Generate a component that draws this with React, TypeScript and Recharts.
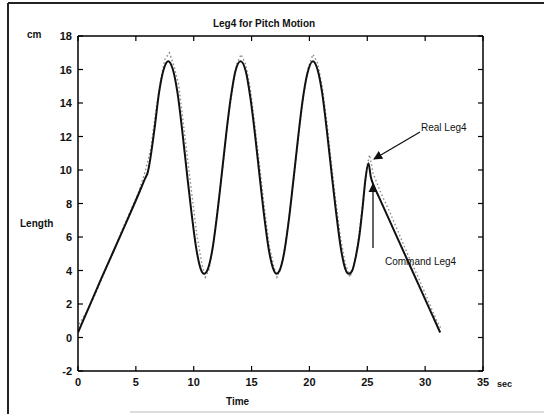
import React from 'react';
import { LineChart, Line, XAxis, YAxis } from 'recharts';

const xTicks = [0, 5, 10, 15, 20, 25, 30, 35];
const yTicks = [-2, 0, 2, 4, 6, 8, 10, 12, 14, 16, 18];

const cmdX = [0, 2.0, 4.0, 5.5, 5.8, 6.0, 6.6, 7.0, 7.4, 7.8, 8.2, 8.6, 9.0, 9.4, 9.8, 10.2, 10.6, 10.9, 11.2, 11.6, 12.0, 12.4, 12.8, 13.2, 13.6, 14.05, 14.5, 14.9, 15.3, 15.7, 16.1, 16.5, 16.9, 17.15, 17.4, 17.8, 18.2, 18.6, 19.0, 19.4, 19.8, 20.3, 20.7, 21.1, 21.5, 21.9, 22.3, 22.7, 23.1, 23.4, 23.7, 24.0, 24.3, 24.6, 24.85, 25.1, 25.3, 25.6, 26.0, 27.5, 29.4, 31.3];
const cmdY = [0.3, 3.5, 6.6, 9.0, 9.5, 9.8, 12.4, 14.6, 16.0, 16.5, 16.0, 14.6, 12.4, 9.9, 7.5, 5.4, 4.1, 3.8, 4.05, 5.2, 7.2, 9.6, 12.1, 14.3, 15.9, 16.5, 15.9, 14.3, 12.1, 9.6, 7.2, 5.2, 4.05, 3.8, 3.97, 5.0, 6.9, 9.3, 11.8, 14.1, 15.7, 16.5, 16.0, 14.6, 12.4, 9.9, 7.5, 5.4, 4.1, 3.8, 4.0, 4.8, 6.0, 7.8, 9.5, 10.4, 9.6, 9.0, 8.4, 6.1, 3.2, 0.3];

const realX = [0.1, 0.8, 1.5, 2.3, 3.0, 3.8, 4.5, 5.2, 5.8, 6.3, 6.7, 7.1, 7.5, 7.9, 8.3, 8.7, 9.1, 9.5, 9.9, 10.3, 10.7, 11.0, 11.3, 11.7, 12.1, 12.5, 12.9, 13.3, 13.7, 14.1, 14.5, 14.9, 15.3, 15.7, 16.1, 16.5, 16.9, 17.2, 17.5, 17.9, 18.3, 18.7, 19.1, 19.5, 19.9, 20.3, 20.7, 21.1, 21.5, 21.9, 22.3, 22.7, 23.1, 23.5, 23.8, 24.1, 24.4, 24.7, 25.0, 25.2, 25.5, 26.2, 27.0, 27.8, 28.6, 29.4, 30.2, 31.0, 31.4];
const realY = [0.8, 1.6, 2.6, 3.9, 5.0, 6.4, 7.5, 8.6, 9.9, 11.3, 13.4, 15.2, 16.6, 17.0, 16.2, 15.1, 12.8, 10.5, 8.2, 6.0, 4.4, 3.6, 4.0, 5.6, 7.9, 10.1, 12.7, 14.6, 16.3, 16.9, 16.3, 14.8, 12.6, 10.2, 7.8, 5.6, 4.3, 3.6, 4.1, 5.4, 7.5, 9.8, 12.3, 14.5, 16.1, 16.9, 16.4, 15.0, 12.9, 10.4, 8.0, 5.9, 4.4, 3.6, 4.2, 5.2, 6.8, 8.6, 10.3, 10.9, 9.8, 8.6, 7.4, 6.1, 4.8, 3.6, 2.3, 1.0, 0.5];

const cmdData = cmdX.map((x, i) => ({ x, y: cmdY[i] }));
const realData = realX.map((x, i) => ({ x, y: realY[i] }));

const FONT = 'Arial, "Liberation Sans", sans-serif';

const BottomTick = (p: any) => (
  <g>
    <line x1={p.x} x2={p.x} y1={p.y} y2={p.y - 5} stroke="#000" strokeWidth={1.2} />
    <text x={p.x} y={p.y + 15} textAnchor="middle" fontSize={11} fontWeight="bold" fontFamily={FONT} fill="#111">
      {p.payload.value}
    </text>
  </g>
);
const TopTick = (p: any) => (
  <line x1={p.x} x2={p.x} y1={p.y} y2={p.y + 5} stroke="#000" strokeWidth={1.2} />
);
const LeftTick = (p: any) => (
  <g>
    <line x1={p.x} x2={p.x + 5} y1={p.y} y2={p.y} stroke="#000" strokeWidth={1.2} />
    <text x={p.x - 6} y={p.y + 4} textAnchor="end" fontSize={11} fontWeight="bold" fontFamily={FONT} fill="#111">
      {p.payload.value}
    </text>
  </g>
);
const RightTick = (p: any) => (
  <line x1={p.x} x2={p.x - 5} y1={p.y} y2={p.y} stroke="#000" strokeWidth={1.2} />
);

export default function App() {
  return (
    <div style={{ position: 'absolute', left: 0, top: 0, width: 544, height: 414, background: '#fff' }}>
      <LineChart width={544} height={414} margin={{ top: 35, right: 60, bottom: 42, left: 77 }}>
        <XAxis xAxisId="b" dataKey="x" type="number" domain={[0, 35]} ticks={xTicks} height={1} tickSize={0} tickMargin={0}
          tick={<BottomTick />} tickLine={false} stroke="#000" strokeWidth={1.5} allowDataOverflow />
        <XAxis xAxisId="t" orientation="top" dataKey="x" type="number" domain={[0, 35]} ticks={xTicks} height={1} tickSize={0} tickMargin={0}
          tick={<TopTick />} tickLine={false} stroke="#000" strokeWidth={1.5} allowDataOverflow />
        <YAxis yAxisId="l" type="number" domain={[-2, 18]} ticks={yTicks} width={1} tickSize={0} tickMargin={0}
          tick={<LeftTick />} tickLine={false} stroke="#000" strokeWidth={1.5} allowDataOverflow />
        <YAxis yAxisId="r" orientation="right" type="number" domain={[-2, 18]} ticks={yTicks} width={1} tickSize={0} tickMargin={0}
          tick={<RightTick />} tickLine={false} stroke="#000" strokeWidth={1.5} allowDataOverflow />
        <Line xAxisId="t" yAxisId="r" data={cmdData} dataKey="y" stroke="none" dot={false} isAnimationActive={false} />
        <Line xAxisId="b" yAxisId="l" data={realData} dataKey="y" type="linear" stroke="#888" strokeWidth={1.4}
          strokeDasharray="1.5 2.5" dot={false} isAnimationActive={false} />
        <Line xAxisId="b" yAxisId="l" data={cmdData} dataKey="y" type="monotone" stroke="#111" strokeWidth={2}
          dot={false} isAnimationActive={false} />
      </LineChart>
      <svg width={544} height={414} style={{ position: 'absolute', left: 0, top: 0, pointerEvents: 'none' }}>
        <defs>
          <marker id="ah" viewBox="0 0 10 10" refX="9" refY="5" markerWidth="7" markerHeight="7" orient="auto-start-reverse">
            <path d="M0,0 L10,5 L0,10 z" fill="#111" />
          </marker>
        </defs>
        <line x1={8} y1={3} x2={544} y2={3} stroke="#222" strokeWidth={2} />
        <line x1={8} y1={3} x2={8} y2={414} stroke="#222" strokeWidth={2} />
        <line x1={130} y1={412} x2={544} y2={412} stroke="#bbb" strokeWidth={1} />
        <text x={264} y={27} textAnchor="middle" fontSize={10} fontWeight="bold" fontFamily={FONT} fill="#111">Leg4 for Pitch Motion</text>
        <text x={27} y={38} fontSize={10} fontWeight="bold" fontFamily={FONT} fill="#111">cm</text>
        <text x={20} y={227} fontSize={10} fontWeight="bold" fontFamily={FONT} fill="#111">Length</text>
        <text x={226} y={405} fontSize={10} fontWeight="bold" fontFamily={FONT} fill="#111">Time</text>
        <text x={497} y={387} fontSize={9} fontWeight="bold" fontFamily={FONT} fill="#111">sec</text>
        <text x={421} y={131} fontSize={10} fontFamily={FONT} fill="#111">Real Leg4</text>
        <text x={385} y={265} fontSize={10} fontFamily={FONT} fill="#111">Command Leg4</text>
        <line x1={420} y1={132} x2={374} y2={159} stroke="#111" strokeWidth={1.3} markerEnd="url(#ah)" />
        <line x1={373} y1={248} x2={373} y2={184} stroke="#111" strokeWidth={1.3} markerEnd="url(#ah)" />
      </svg>
    </div>
  );
}
